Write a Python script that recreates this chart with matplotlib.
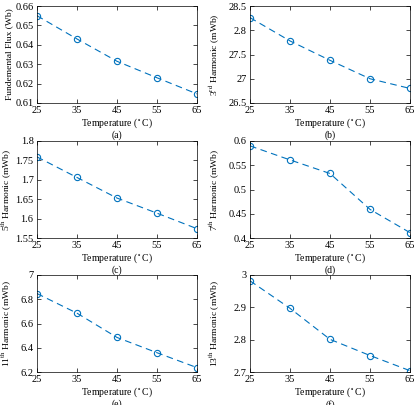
import matplotlib.pyplot as plt
import matplotlib

matplotlib.rcParams['font.family'] = ['Liberation Serif', 'DejaVu Serif']
matplotlib.rcParams['mathtext.fontset'] = 'stix'
matplotlib.rcParams['font.size'] = 7

# data
temps = [25, 35, 45, 55, 65]
fund = [0.655, 0.643, 0.6315, 0.623, 0.6147]
h3 = [28.26, 27.78, 27.38, 27.00, 26.80]
h5 = [1.759, 1.706, 1.653, 1.614, 1.574]
h7 = [0.590, 0.561, 0.533, 0.459, 0.411]
h11 = [6.847, 6.685, 6.485, 6.359, 6.236]
h13 = [2.982, 2.897, 2.801, 2.751, 2.704]

ylabels = ['Fundemental Flux (Wb)', '3$^{\\mathrm{rd}}$ Harmonic (mWb)',
           '5$^{\\mathrm{th}}$ Harmonic (mWb)', '7$^{\\mathrm{th}}$ Harmonic (mWb)',
           '11$^{\\mathrm{th}}$ Harmonic (mWb)', '13$^{\\mathrm{th}}$ Harmonic (mWb)']
captions = ['(a)', '(b)', '(c)', '(d)', '(e)', '(f)']
yticks = [[0.61, 0.62, 0.63, 0.64, 0.65, 0.66],
          [26.5, 27, 27.5, 28, 28.5],
          [1.55, 1.6, 1.65, 1.7, 1.75, 1.8],
          [0.4, 0.45, 0.5, 0.55, 0.6],
          [6.2, 6.4, 6.6, 6.8, 7],
          [2.7, 2.8, 2.9, 3]]
yticklabels = [['0.61', '0.62', '0.63', '0.64', '0.65', '0.66'],
               ['26.5', '27', '27.5', '2.8', '28.5'],
               ['1.55', '1.6', '1.65', '1.7', '1.75', '1.8'],
               ['0.4', '0.45', '0.5', '0.55', '0.6'],
               ['6.2', '6.4', '6.6', '6.8', '7'],
               ['2.7', '2.8', '2.9', '3']]
series = [fund, h3, h5, h7, h11, h13]

W, H = 415, 405
# axes boxes in pixels: left, top, right, bottom
boxes = [(37, 6, 197, 103), (250, 6, 410, 103),
         (37, 141, 197, 238), (250, 141, 410, 238),
         (37, 275, 197, 372), (250, 275, 410, 372)]

fig = plt.figure(figsize=(W / 100, H / 100), dpi=100)
blue = '#0072BD'
for i in range(6):
    l, t, r, b = boxes[i]
    ax = fig.add_axes([l / W, 1 - b / H, (r - l) / W, (b - t) / H])
    ax.plot(temps, series[i], '--', color=blue, lw=0.8, dashes=(6, 4),
            marker='o', markersize=4.5, markerfacecolor='none', markeredgewidth=0.8)
    ax.set_xlim(25, 65)
    ax.set_xticks(temps)
    ax.set_ylim(yticks[i][0], yticks[i][-1])
    ax.set_yticks(yticks[i])
    ax.set_yticklabels(yticklabels[i])
    ax.tick_params(direction='in', top=True, right=True, length=3, width=0.5,
                   pad=2.5, labelsize=7.5)
    for s in ax.spines.values():
        s.set_linewidth(0.5)
    ax.set_ylabel(ylabels[i], fontsize=6.8)
    ax.yaxis.set_label_coords(-24 / (r - l) if i % 2 == 0 else -29 / (r - l), 0.5)
    ax.set_xlabel('Temperature ($^\\circ$C)\n' + captions[i], labelpad=1, linespacing=1.05)

fig.savefig('out.png', dpi=100)
